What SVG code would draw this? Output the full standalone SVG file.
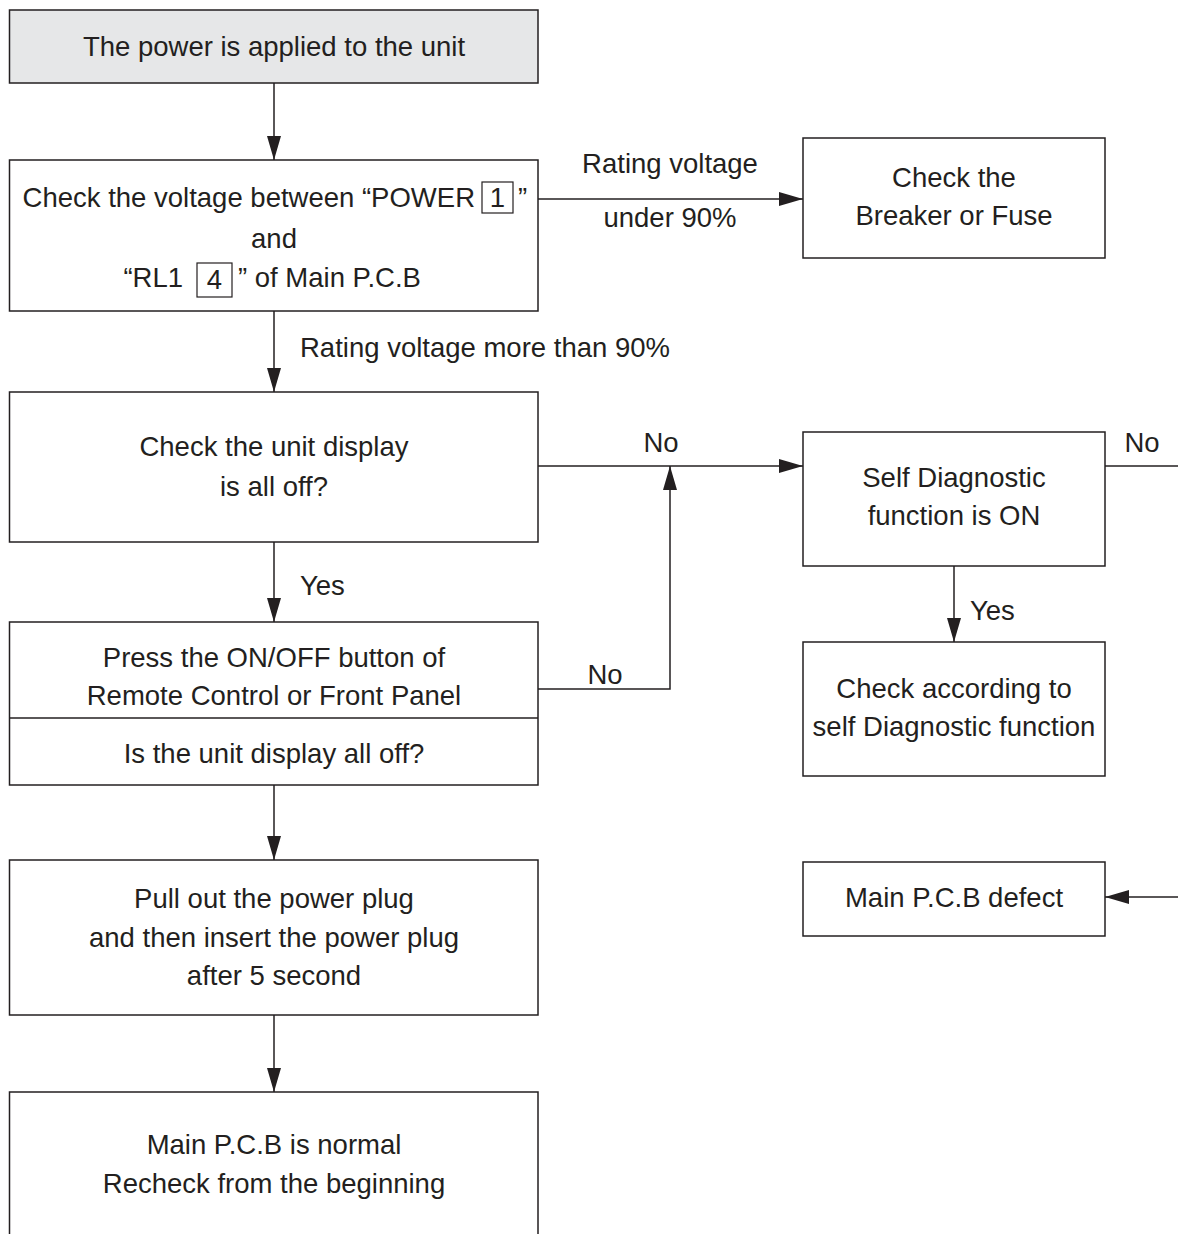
<svg xmlns="http://www.w3.org/2000/svg" width="1178" height="1234" viewBox="0 0 1178 1234">
<defs>
<style>
.box{fill:#fff;stroke:#231f20;stroke-width:1.5}
.grey{fill:#e6e7e8}
.t{font-family:"Liberation Sans",Arial,sans-serif;font-size:27.5px;fill:#231f20;text-anchor:middle}
.ts{font-family:"Liberation Sans",Arial,sans-serif;font-size:27.5px;fill:#231f20}
.ln{fill:none;stroke:#231f20;stroke-width:1.5}
</style>
<marker id="ah" viewBox="0 0 24 14" refX="24" refY="7" markerWidth="24" markerHeight="14" markerUnits="userSpaceOnUse" orient="auto">
<path d="M0,0 L24,7 L0,14 Z" fill="#231f20"/>
</marker>
</defs>
<rect width="1178" height="1234" fill="#fff"/>
<g id="connectors">
<line class="ln" x1="274" y1="83" x2="274" y2="160" marker-end="url(#ah)"/>
<line class="ln" x1="538" y1="199" x2="803" y2="199" marker-end="url(#ah)"/>
<line class="ln" x1="274" y1="311" x2="274" y2="392" marker-end="url(#ah)"/>
<line class="ln" x1="538" y1="466" x2="803" y2="466" marker-end="url(#ah)"/>
<line class="ln" x1="1105" y1="466" x2="1178" y2="466"/>
<line class="ln" x1="274" y1="542" x2="274" y2="622" marker-end="url(#ah)"/>
<polyline class="ln" points="538,689 670,689 670,466" marker-end="url(#ah)"/>
<line class="ln" x1="954" y1="566" x2="954" y2="642" marker-end="url(#ah)"/>
<line class="ln" x1="1178" y1="897" x2="1105" y2="897" marker-end="url(#ah)"/>
<line class="ln" x1="274" y1="785" x2="274" y2="860" marker-end="url(#ah)"/>
<line class="ln" x1="274" y1="1015" x2="274" y2="1092" marker-end="url(#ah)"/>
<text class="t" x="670" y="173">Rating voltage</text>
<text class="t" x="670" y="227">under 90%</text>
<text class="ts" x="300" y="357">Rating voltage more than 90%</text>
<text class="t" x="661" y="452">No</text>
<text class="t" x="1142" y="452">No</text>
<text class="ts" x="300" y="595">Yes</text>
<text class="t" x="605" y="684">No</text>
<text class="ts" x="970" y="620">Yes</text>
</g>
<g id="n-power">
<rect class="box grey" x="9.5" y="10" width="528.5" height="73"/>
<text class="t" x="274" y="56">The power is applied to the unit</text>
</g>
<g id="n-check-voltage">
<rect class="box" x="9.5" y="160" width="528.5" height="151"/>
<text class="ts" x="475" y="207" text-anchor="end">Check the voltage between “POWER</text>
<rect class="ln" x="482" y="182" width="31" height="31" style="stroke-width:1.2"/>
<text class="t" x="497.5" y="207">1</text>
<text class="ts" x="518" y="207">”</text>
<text class="t" x="274" y="248">and</text>
<text class="ts" x="183" y="287" text-anchor="end">“RL1</text>
<rect class="ln" x="197" y="263" width="35" height="34" style="stroke-width:1.2"/>
<text class="t" x="214.5" y="289">4</text>
<text class="ts" x="238" y="287">” of Main P.C.B</text>
</g>
<g id="n-breaker">
<rect class="box" x="803" y="138" width="302" height="120"/>
<text class="t" x="954" y="187">Check the</text>
<text class="t" x="954" y="225">Breaker or Fuse</text>
</g>
<g id="n-display-off">
<rect class="box" x="9.5" y="392" width="528.5" height="150"/>
<text class="t" x="274" y="456">Check the unit display</text>
<text class="t" x="274" y="496">is all off?</text>
</g>
<g id="n-self-diag">
<rect class="box" x="803" y="432" width="302" height="134"/>
<text class="t" x="954" y="487">Self Diagnostic</text>
<text class="t" x="954" y="525">function is ON</text>
</g>
<g id="n-press">
<rect class="box" x="9.5" y="622" width="528.5" height="163"/>
<line class="ln" x1="9.5" y1="718" x2="538" y2="718"/>
<text class="t" x="274" y="667">Press the ON/OFF button of</text>
<text class="t" x="274" y="705">Remote Control or Front Panel</text>
<text class="t" x="274" y="763">Is the unit display all off?</text>
</g>
<g id="n-check-according">
<rect class="box" x="803" y="642" width="302" height="134"/>
<text class="t" x="954" y="698">Check according to</text>
<text class="t" x="954" y="736">self Diagnostic function</text>
</g>
<g id="n-defect">
<rect class="box" x="803" y="862" width="302" height="74"/>
<text class="t" x="954" y="907">Main P.C.B defect</text>
</g>
<g id="n-pull">
<rect class="box" x="9.5" y="860" width="528.5" height="155"/>
<text class="t" x="274" y="908">Pull out the power plug</text>
<text class="t" x="274" y="947">and then insert the power plug</text>
<text class="t" x="274" y="985">after 5 second</text>
</g>
<g id="n-normal">
<path class="box" d="M9.5,1234 L9.5,1092 L538,1092 L538,1234"/>
<text class="t" x="274" y="1154">Main P.C.B is normal</text>
<text class="t" x="274" y="1193">Recheck from the beginning</text>
</g>
</svg>
